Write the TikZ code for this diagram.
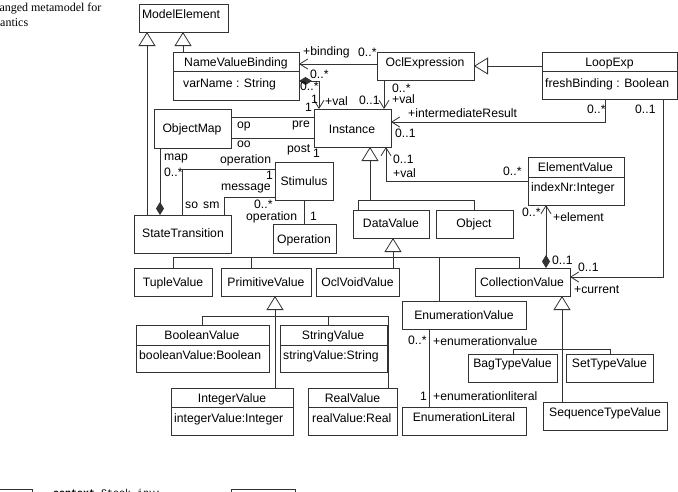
\documentclass[tikz,border=0pt]{standalone}
\usepackage{fontspec}
\setmainfont{Liberation Serif}
\setmonofont{Liberation Mono}
\newfontfamily\umlfont{Liberation Sans}
\usetikzlibrary{arrows.meta}
\definecolor{lc}{HTML}{333333}
\newcommand\umlbox[5]{\node[umlrect, minimum width={(#4-#2)*1pt}, minimum height={(#5-#3)*1pt}] (#1) at ({(#2+#4)/2},{(#3+#5)/2}) {};}
\begin{document}
\begin{tikzpicture}[x=1pt,y=-1pt,
  umlrect/.style={draw=lc, line width=0.8pt, inner sep=0pt, outer sep=0pt},
  txt/.style={font=\umlfont\fontsize{12.2}{14}\selectfont, inner sep=0pt, anchor=base, yshift=-4.4pt},
  attr/.style={txt, anchor=base west},
  lab/.style={font=\umlfont\fontsize{12.2}{14}\selectfont, inner sep=0pt, anchor=base west},
  captext/.style={font=\fontsize{12}{14}\selectfont, inner sep=0pt, anchor=base west},
  plain/.style={draw=lc, line width=0.8pt},
  assoc/.style={plain, -{Straight Barb[length=8pt,width=10pt]}},
  gen/.style={plain, -{Triangle[open,length=14pt,width=17pt]}},
  compo/.style={plain, {Diamond[length=13pt,width=8pt]}-},
  compassoc/.style={plain, {Diamond[length=13pt,width=8pt]}-{Straight Barb[length=8pt,width=10pt]}}
]
\useasboundingbox (0,0) rectangle (678,491);

% caption fragment
\node[captext] (cap1) at (-14.7,11) {Changed metamodel for};
\node[captext] (cap2) at (-19.3,26) {semantics};

% classes
\umlbox{me}{139}{4}{228}{32}
\node[txt] (me-t) at (181,14) {ModelElement};

\umlbox{nvb}{173}{52}{299}{100}
\draw[plain] (173,71) -- (299,71);
\node[txt] (nvb-t) at (236,62) {NameValueBinding};
\node[attr] (nvb-a) at (183,83) {varName : String};

\umlbox{ocl}{377}{52}{474}{80}
\node[txt] (ocl-t) at (425,62) {OclExpression};

\umlbox{loop}{542}{52}{677}{99}
\draw[plain] (542,71) -- (677,71);
\node[txt] (loop-t) at (609.5,62) {LoopExp};
\node[attr] (loop-a) at (545,83) {freshBinding : Boolean};

\umlbox{inst}{314}{109}{391}{147}
\node[txt] (inst-t) at (352,129) {Instance};

\umlbox{om}{154}{109}{231}{148}
\node[txt] (om-t) at (192,128) {ObjectMap};

\umlbox{st}{134}{215}{231}{253}
\node[txt] (st-t) at (183,233) {StateTransition};

\umlbox{stim}{275}{162}{333}{200}
\node[txt] (stim-t) at (304,181) {Stimulus};

\umlbox{op}{273}{224}{336}{253}
\node[txt] (op-t) at (304,239) {Operation};

\umlbox{dv}{353}{210}{429}{238}
\node[txt] (dv-t) at (391,223) {DataValue};

\umlbox{obj}{436}{210}{513}{238}
\node[txt] (obj-t) at (474,223) {Object};

\umlbox{ev}{528}{157}{624}{205}
\draw[plain] (528,177) -- (624,177);
\node[txt] (ev-t) at (575.5,167) {ElementValue};
\node[attr] (ev-a) at (531,187) {indexNr:Integer};

\umlbox{tv}{134}{268}{212}{296}
\node[txt] (tv-t) at (173,282) {TupleValue};

\umlbox{pv}{221}{268}{311}{296}
\node[txt] (pv-t) at (266,282) {PrimitiveValue};

\umlbox{ov}{316}{268}{399}{296}
\node[txt] (ov-t) at (357.5,282) {OclVoidValue};

\umlbox{cv}{475}{268}{570}{296}
\node[txt] (cv-t) at (522,282) {CollectionValue};

\umlbox{env}{402}{301}{526}{329}
\node[txt] (env-t) at (464,315) {EnumerationValue};

\umlbox{enl}{402}{407}{526}{435}
\node[txt] (enl-t) at (464,417) {EnumerationLiteral};

\umlbox{bag}{468}{354}{557}{382}
\node[txt] (bag-t) at (512.5,363) {BagTypeValue};

\umlbox{set}{566}{354}{653}{382}
\node[txt] (set-t) at (609.5,363) {SetTypeValue};

\umlbox{seq}{543}{402}{667}{430}
\node[txt] (seq-t) at (605,412) {SequenceTypeValue};

\umlbox{bv}{136}{325}{269}{372}
\draw[plain] (136,345) -- (269,345);
\node[txt] (bv-t) at (202,335) {BooleanValue};
\node[attr] (bv-a) at (139,355) {booleanValue:Boolean};

\umlbox{sv}{280}{325}{387}{372}
\draw[plain] (280,345) -- (387,345);
\node[txt] (sv-t) at (333,335) {StringValue};
\node[attr] (sv-a) at (283,355) {stringValue:String};

\umlbox{iv}{171}{388}{293}{435}
\draw[plain] (171,407) -- (293,407);
\node[txt] (iv-t) at (232,398) {IntegerValue};
\node[attr] (iv-a) at (174,418) {integerValue:Integer};

\umlbox{rv}{308}{388}{397}{435}
\draw[plain] (308,407) -- (397,407);
\node[txt] (rv-t) at (352.5,398) {RealValue};
\node[attr] (rv-a) at (312,418) {realValue:Real};

% cropped fragments at the bottom edge
\umlbox{fr1}{-10}{489}{32}{520}
\umlbox{fr2}{231}{489}{295}{520}
\node[font=\ttfamily\fontsize{10}{12}\selectfont, inner sep=0pt, anchor=base west] (fr-t) at (53,496) {\textbf{context} Stock inv:};

% helper coordinates
\coordinate (xa) at (147,0);  \coordinate (xb) at (183,0);
\coordinate (yb) at (0,64);   \coordinate (yl) at (0,66);
\coordinate (yc) at (0,81);   \coordinate (xc) at (319,0);
\coordinate (xo) at (384,0);
\coordinate (xi) at (605,0);  \coordinate (yi) at (0,122);
\coordinate (xcu) at (663,0); \coordinate (ycu) at (0,277);
\coordinate (y1) at (0,117);  \coordinate (y2) at (0,138);
\coordinate (xm) at (160,0);
\coordinate (xs) at (182,0);  \coordinate (ys) at (0,169);
\coordinate (xsm) at (224,0); \coordinate (ysm) at (0,197);
\coordinate (xso) at (304,0);
\coordinate (xg) at (370,0);  \coordinate (yg) at (0,200);
\coordinate (xdv) at (358,0); \coordinate (xob) at (474,0);
\coordinate (xv) at (386,0);  \coordinate (yv) at (0,181);
\coordinate (xe) at (546,0);
\coordinate (xdg) at (393,0); \coordinate (ydg) at (0,257);
\coordinate (xt) at (173,0);  \coordinate (xcv) at (519,0);
\coordinate (xp) at (251,0);  \coordinate (xen) at (439,0);
\coordinate (xn) at (429,0);
\coordinate (xcg) at (562,0); \coordinate (ycg) at (0,349);
\coordinate (xbg) at (513,0); \coordinate (xst) at (610,0);
\coordinate (xpg) at (275,0); \coordinate (ypg) at (0,316);
\coordinate (xbo) at (202,0); \coordinate (xrv) at (388,0);
\coordinate (xsv) at (328,0);

% connectors
\draw[gen] (st.north -| xa) -- (me.south -| xa);
\draw[gen] (nvb.north -| xb) -- (me.south -| xb);
\draw[assoc] (ocl.west |- yb) -- (nvb.east |- yb);
\draw[gen] (loop.west |- yl) -- (ocl.east |- yl);
\draw[compassoc] (nvb.east |- yc) -| (inst.north -| xc);
\draw[assoc] (ocl.south -| xo) -- (inst.north -| xo);
\draw[assoc] (loop.south -| xi) |- (inst.east |- yi);
\draw[assoc] (loop.south -| xcu) |- (cv.east |- ycu);
\draw[plain] (om.east |- y1) -- (inst.west |- y1);
\draw[plain] (om.east |- y2) -- (inst.west |- y2);
\draw[compo] (st.north -| xm) -- (om.south -| xm);
\draw[plain] (st.north -| xs) |- (stim.west |- ys);
\draw[plain] (st.north -| xsm) |- (stim.west |- ysm);
\draw[plain] (stim.south -| xso) -- (op.north -| xso);
\draw[gen] (xg |- yg) -- (inst.south -| xg);
\draw[plain] (dv.north -| xdv) -- (xdv |- yg) -- (xob |- yg) -- (obj.north -| xob);
\draw[assoc] (ev.west |- yv) -| (inst.south -| xv);
\draw[compassoc] (cv.north -| xe) -- (ev.south -| xe);
\draw[gen] (ov.north -| xdg) -- (dv.south -| xdg);
\draw[plain] (tv.north -| xt) -- (xt |- ydg) -- (xcv |- ydg) -- (cv.north -| xcv);
\draw[plain] (pv.north -| xp) -- (xp |- ydg);
\draw[plain] (env.north -| xen) -- (xen |- ydg);
\draw[plain] (env.south -| xn) -- (enl.north -| xn);
\draw[gen] (seq.north -| xcg) -- (cv.south -| xcg);
\draw[plain] (bag.north -| xbg) -- (xbg |- ycg) -- (xst |- ycg) -- (set.north -| xst);
\draw[gen] (iv.north -| xpg) -- (pv.south -| xpg);
\draw[plain] (bv.north -| xbo) -- (xbo |- ypg) -- (xrv |- ypg) -- (rv.north -| xrv);
\draw[plain] (sv.north -| xsv) -- (xsv |- ypg);

% labels
\node[lab] (l1) at (303,55.5) {+binding};
\node[lab] (l2) at (358,56) {0..*};
\node[lab] (l3) at (310,78) {0..*};
\node[lab] (l4) at (300,90.5) {0..*};
\node[lab] (l5) at (311,103) {1};
\node[lab] (l6) at (305,111) {1};
\node[lab] (l7) at (325,105) {+val};
\node[lab] (l8) at (392,92) {0..*};
\node[lab] (l9) at (392,103) {+val};
\node[lab] (l10) at (359,104) {0..1};
\node[lab] (l11) at (408,117) {+intermediateResult};
\node[lab] (l12) at (395,137) {0..1};
\node[lab] (l13) at (587,113) {0..*};
\node[lab] (l14) at (635,113) {0..1};
\node[lab] (l15) at (237,128) {op};
\node[lab] (l16) at (292,127) {pre};
\node[lab] (l17) at (237,147) {oo};
\node[lab] (l18) at (287,152) {post};
\node[lab] (l19) at (313,157) {1};
\node[lab] (l20) at (164,160) {map};
\node[lab] (l21) at (164,176) {0..*};
\node[lab] (l22) at (220,163) {operation};
\node[lab] (l23) at (266,179) {1};
\node[lab] (l24) at (221,190.5) {message};
\node[lab] (l25) at (185,208) {so};
\node[lab] (l26) at (203,208) {sm};
\node[lab] (l27) at (254,208.5) {0..*};
\node[lab] (l28) at (246,220) {operation};
\node[lab] (l29) at (310,220) {1};
\node[lab] (l30) at (393,163) {0..1};
\node[lab] (l31) at (393,177) {+val};
\node[lab] (l32) at (503,175) {0..*};
\node[lab] (l33) at (522,216) {0..*};
\node[lab] (l34) at (553,221) {+element};
\node[lab] (l35) at (552,264) {0..1};
\node[lab] (l36) at (578,271) {0..1};
\node[lab] (l37) at (574,293) {+current};
\node[lab] (l38) at (408,344) {0..*};
\node[lab] (l39) at (433,345) {+enumerationvalue};
\node[lab] (l40) at (420,400) {1};
\node[lab] (l41) at (433,400) {+enumerationliteral};
\end{tikzpicture}
\end{document}
